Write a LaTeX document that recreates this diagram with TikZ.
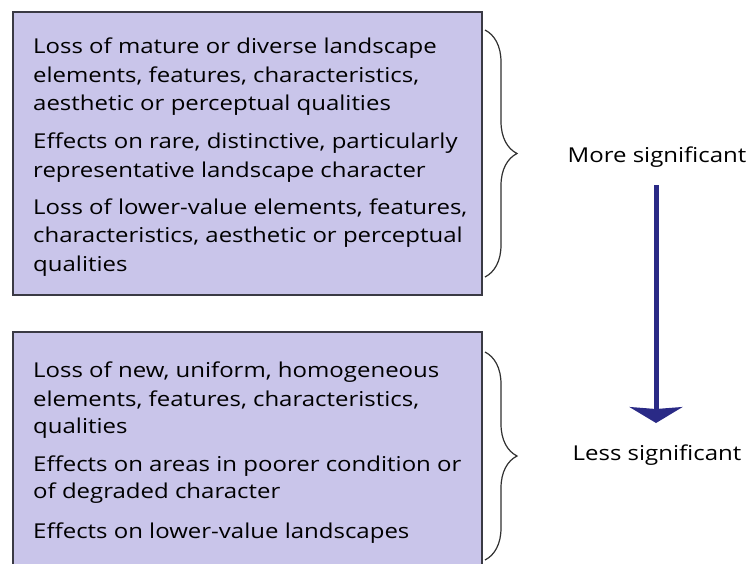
\documentclass[tikz,border=0pt]{standalone}
\usepackage{fontspec}
\setmainfont[FakeStretch=1.17]{Open Sans}
\usetikzlibrary{decorations.pathreplacing,arrows.meta}
\definecolor{boxfill}{HTML}{C9C5EA}
\definecolor{boxline}{HTML}{3A3A44}
\definecolor{bracegray}{HTML}{303030}
\definecolor{arrowblue}{HTML}{2A2A86}
\begin{document}
\begin{tikzpicture}[x=1pt,y=-1pt,
  every node/.style={inner sep=0pt, font=\fontsize{20.5}{28}\selectfont},
  panel/.style={draw=boxline, line width=1.6pt, fill=boxfill},
  txt/.style={anchor=base west},
  lbl/.style={anchor=base},
  bracket/.style={draw=bracegray, line width=1.2pt, decorate,
    decoration={brace, amplitude=32pt, aspect=0.5}},
  bigarrow/.style={draw=arrowblue, line width=5pt,
    -{Stealth[length=16pt, width=53pt, inset=2pt, fill=arrowblue]}}]
\useasboundingbox (0,0) rectangle (752,563);
\fill[white] (0,0) rectangle (752,563);
% panels
\path[panel] (13,12) rectangle (482,295);
\node[txt] (a1) at (33,53) {Loss of mature or diverse landscape};
\node[txt] (a2) at (33,82) {elements, features, characteristics,};
\node[txt] (a3) at (33,110) {aesthetic or perceptual qualities};
\node[txt] (b1) at (33,148) {Effects on rare, distinctive, particularly};
\node[txt] (b2) at (33,177) {representative landscape character};
\node[txt] (c1) at (33,214) {Loss of lower-value elements, features,};
\node[txt] (c2) at (33,242) {characteristics, aesthetic or perceptual};
\node[txt] (c3) at (33,271) {qualities};
\path[panel] (13,332) rectangle (482,575);
\node[txt] (d1) at (33,377) {Loss of new, uniform, homogeneous};
\node[txt] (d2) at (33,406) {elements, features, characteristics,};
\node[txt] (d3) at (33,433) {qualities};
\node[txt] (e1) at (33,471) {Effects on areas in poorer condition or};
\node[txt] (e2) at (33,498) {of degraded character};
\node[txt] (f1) at (33,538) {Effects on lower-value landscapes};
% braces
\coordinate (br1t) at (485,30);
\coordinate (br1b) at (485,277);
\coordinate (br2t) at (485,352);
\coordinate (br2b) at (485,560);
\draw[bracket] (br1t) -- (br1b);
\draw[bracket] (br2t) -- (br2b);
% labels and arrow
\node[lbl] (more) at (657,162) {More significant};
\node[lbl] (less) at (657,460) {Less significant};
\coordinate (atop) at (656,185);
\coordinate (abot) at (656,423);
\draw[bigarrow] (atop) -- (abot);
\end{tikzpicture}
\end{document}
